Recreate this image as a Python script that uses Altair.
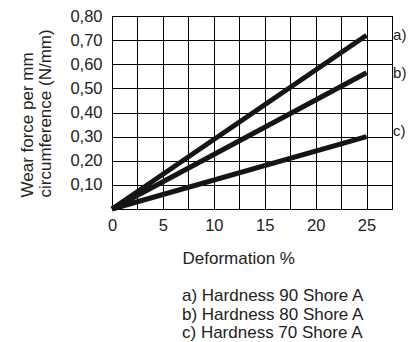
import altair as alt
import pandas as pd

# Data
deformation = [0, 25]
wear_a = [0, 0.72]
wear_b = [0, 0.565]
wear_c = [0, 0.30]
series_keys = ["a)", "b)", "c)"]
legend_lines = ["a) Hardness 90 Shore A", "b) Hardness 80 Shore A", "c) Hardness 70 Shore A"]
x_grid = [0, 2.5, 5, 7.5, 10, 12.5, 15, 17.5, 20, 22.5, 25, 27.5]
y_grid = [0, 0.1, 0.2, 0.3, 0.4, 0.5, 0.6, 0.7, 0.8]

FONT = "Liberation Sans"
TXT = "#222222"

rows = []
for key, vals in zip(series_keys, [wear_a, wear_b, wear_c]):
    for d, v in zip(deformation, vals):
        rows.append({"series": key, "deformation": d, "wear": v})
df = pd.DataFrame(rows)

ends = pd.DataFrame({
    "series": series_keys,
    "deformation": [deformation[-1]] * 3,
    "wear": [wear_a[-1], wear_b[-1], wear_c[-1]],
})

legend_df = pd.DataFrame({"text": legend_lines, "row": [0, 1, 2]})

x_scale = alt.Scale(domain=[0, 27.5], nice=False, zero=False)
y_scale = alt.Scale(domain=[0, 0.8], nice=False)

x_enc = alt.X(
    "deformation:Q",
    scale=x_scale,
    axis=alt.Axis(
        values=x_grid,
        labelExpr="datum.value % 5 == 0 ? datum.label : ''",
        title="Deformation %",
        titleX=70,
        titleY=54,
        titleAlign="left",
        titleBaseline="alphabetic",
        titleAnchor="start",
        ticks=False,
        domain=False,
        grid=True,
        gridColor="black",
        gridOpacity=1,
        gridWidth=1,
        labelPadding=8,
        labelFlush=False,
        labelOverlap=False,
    ),
)
y_enc = alt.Y(
    "wear:Q",
    scale=y_scale,
    axis=alt.Axis(
        values=y_grid,
        labelExpr="datum.value == 0 ? '' : replace(format(datum.value, '.2f'), '.', ',')",
        title=["Wear force per mm", "circumference (N/mm)"],
        titleX=-85,
        titleY=181,
        titleAngle=270,
        titleAlign="left",
        titleBaseline="middle",
        titleLineHeight=18,
        ticks=False,
        domain=False,
        grid=True,
        gridColor="black",
        gridOpacity=1,
        gridWidth=1,
        labelPadding=10,
        labelFlush=False,
        labelOverlap=False,
    ),
)

lines = alt.Chart(df).mark_line(color="#151515", strokeWidth=5, strokeCap="butt").encode(
    x=x_enc, y=y_enc, detail="series:N"
)

labels_ab = alt.Chart(ends).transform_filter(
    "datum.series != 'c)'"
).mark_text(align="left", baseline="middle", dx=26.5, font=FONT, fontSize=15, color=TXT).encode(
    x=x_enc, y=y_enc, text="series:N"
)
labels_c = alt.Chart(ends).transform_filter(
    "datum.series == 'c)'"
).mark_text(align="left", baseline="middle", dx=26.5, dy=-6, font=FONT, fontSize=15, color=TXT).encode(
    x=x_enc, y=y_enc, text="series:N"
)

legend_rows = []
for i, yy in enumerate([285, 303.5, 322]):
    legend_rows.append(
        alt.Chart(legend_df).transform_filter(f"datum.row == {i}").mark_text(
            align="left", baseline="alphabetic", font=FONT, fontSize=17, color=TXT
        ).encode(x=alt.value(70), y=alt.value(yy), text="text:N")
    )

chart = alt.layer(lines, labels_ab, labels_c, *legend_rows).properties(
    width=280,
    height=193,
    autosize=alt.AutoSizeParams(type="none"),
    padding={"left": 104, "top": 8, "right": 14, "bottom": 136},
).configure_view(
    stroke="black", strokeWidth=1
).configure_axis(
    labelFont=FONT,
    labelFontSize=16.5,
    labelColor=TXT,
    titleFont=FONT,
    titleFontSize=17,
    titleFontWeight="normal",
    titleColor=TXT,
)

chart.save("out.html", embed_options={"renderer": "svg", "actions": False})
